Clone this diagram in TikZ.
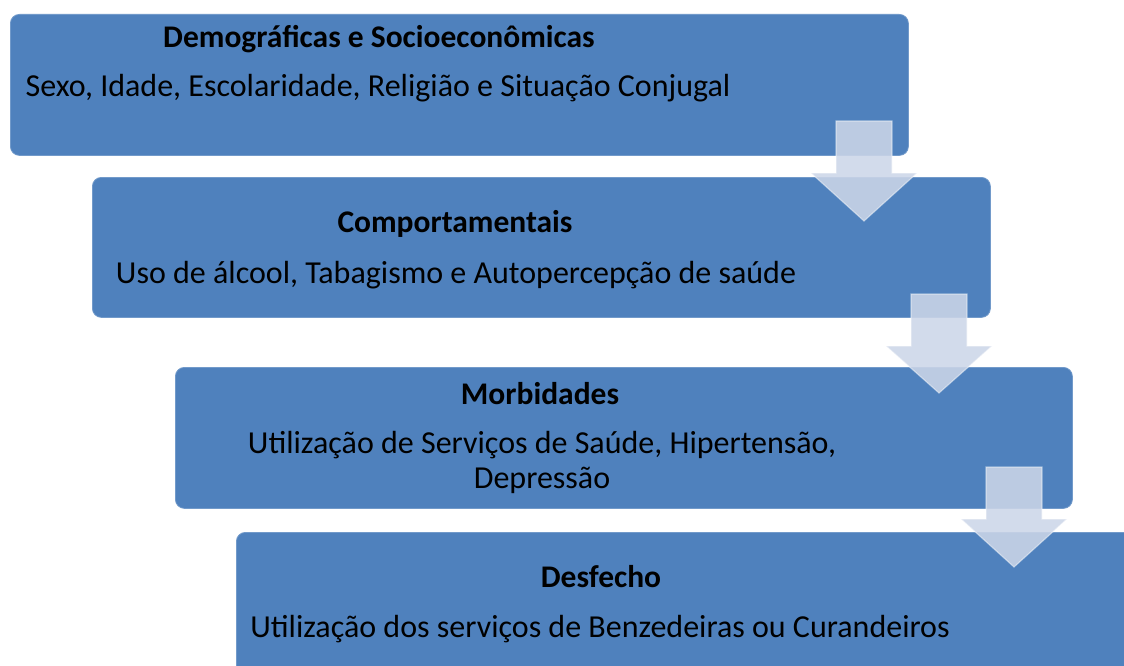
\documentclass[tikz,border=0pt]{standalone}
\usepackage{fontspec}
\setmainfont{Carlito}
\newlength{\du}
\setlength{\du}{1pt}
\definecolor{boxblue}{rgb}{0.310000, 0.506000, 0.741000}
\definecolor{arrowfill}{rgb}{0.800000, 0.840000, 0.910000}
\tikzset{
  stagebox/.style={draw=boxblue!80!white, fill=boxblue, line width=0.8\du,
    rounded corners=9\du, anchor=north west, inner sep=0pt},
  stagetitle/.style={anchor=base, text=black,
    font=\fontsize{31.5\du}{35\du}\selectfont\bfseries},
  stagetext/.style={anchor=base, text=black, align=center,
    font=\fontsize{32\du}{35\du}\selectfont},
  flowarrow/.style={fill=arrowfill, fill opacity=0.88, draw=white,
    draw opacity=0.45, line width=1.2\du, line join=miter}
}
% block arrow: shaft centre x, shaft top y, head base y, tip y
\newcommand{\flowdown}[5]{%
  \draw[flowarrow] (#2\du-28\du,#3\du)--(#2\du+28\du,#3\du)--(#2\du+28\du,#4\du)
    --(#2\du+53\du,#4\du)--(#2\du,#5\du)--(#2\du-53\du,#4\du)
    --(#2\du-28\du,#4\du)--cycle;
  \coordinate (#1) at (#2\du,#5\du);}

\begin{document}
\begin{tikzpicture}
\pgftransformxscale{1.000000}
\pgftransformyscale{-1.000000}
\useasboundingbox (0\du,0\du) rectangle (1124\du,666\du);

% boxes
\node[stagebox, minimum width=898\du, minimum height=141\du] (demog) at (10\du,14\du) {};
\node[stagebox, minimum width=898\du, minimum height=140\du] (comport) at (92\du,177\du) {};
\node[stagebox, minimum width=897\du, minimum height=141\du] (morbid) at (175\du,367\du) {};
\node[stagebox, minimum width=910\du, minimum height=150\du] (desfecho) at (236\du,532\du) {};

% arrows between boxes
\flowdown{tipa}{864}{121}{173}{221}
\flowdown{tipb}{939}{294}{346}{393}
\flowdown{tipc}{1014}{467}{519}{567}

% texts
\node[stagetitle] (demogtitle) at (379\du,48\du) {Demográficas e Socioeconômicas};
\node[stagetext] (demogtext) at (378\du,97\du) {Sexo, Idade, Escolaridade, Religião e Situação Conjugal};
\node[stagetitle] (comporttitle) at (455\du,232\du) {Comportamentais};
\node[stagetext] (comporttext) at (456\du,283\du) {Uso de álcool, Tabagismo e Autopercepção de saúde};
\node[stagetitle] (morbidtitle) at (540\du,404\du) {Morbidades};
% base of a two-line node sits on its last line
\node[stagetext] (morbidtext) at (542\du,488\du) {Utilização de Serviços de Saúde, Hipertensão,\\Depressão};
\node[stagetitle] (desfechotitle) at (601\du,587\du) {Desfecho};
\node[stagetext] (desfechotext) at (600\du,637\du) {Utilização dos serviços de Benzedeiras ou Curandeiros};
\end{tikzpicture}
\end{document}
